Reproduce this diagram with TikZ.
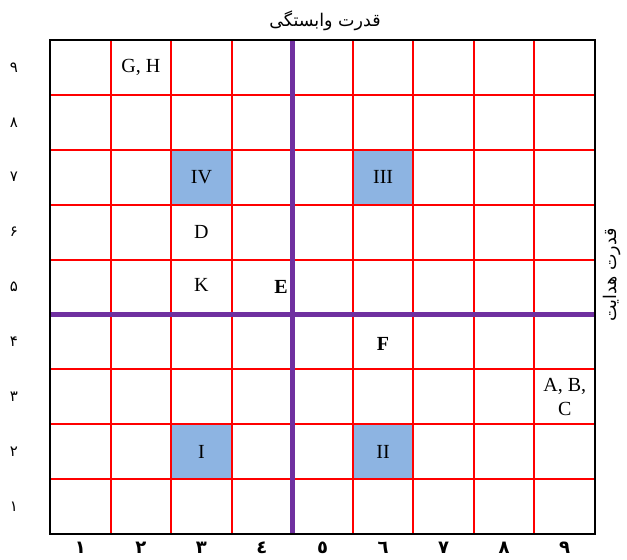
\documentclass[tikz,border=0pt]{standalone}
\usepackage{fontspec}
\setmainfont{Liberation Serif}
\newfontfamily\arabicfont[Script=Arabic]{DejaVu Sans}
\TeXXeTstate=1
\definecolor{gridred}{RGB}{255,0,0}
\definecolor{quadpurple}{RGB}{112,48,160}
\definecolor{cellblue}{RGB}{141,180,226}
\begin{document}
\begin{tikzpicture}[x=1pt,y=-1pt,
  bluecell/.style={draw=none,fill=cellblue,minimum width=60.556pt,minimum height=54.889pt,inner sep=0pt,font=\fontsize{20}{24}\selectfont},
  celltext/.style={inner sep=0pt,font=\fontsize{20}{24}\selectfont},
  boldtext/.style={inner sep=0pt,font=\fontsize{20}{24}\selectfont\bfseries},
  rowlabel/.style={inner sep=0pt,font=\arabicfont\fontsize{15}{17}\selectfont},
  collabel/.style={inner sep=0pt,font=\arabicfont\bfseries\fontsize{18}{20}\selectfont},
  axistitle/.style={inner sep=0pt,font=\arabicfont\fontsize{17.5}{20}\selectfont},
  redline/.style={draw=gridred,line width=2pt},
  purpleline/.style={draw=quadpurple,line width=5pt},
  frame/.style={draw=black,line width=2.5pt}]
\useasboundingbox (0,0) rectangle (627,560);
% blue cells
\node[bluecell] (IV)  at (201.4,177.2) {IV};
\node[bluecell] (III) at (383.1,177.2) {III};
\node[bluecell] (I)   at (201.4,451.7) {I};
\node[bluecell] (II)  at (383.1,451.7) {II};
% red grid
\foreach \i in {1,...,8}{
  \draw[redline] ({50+\i*60.556},40) -- ({50+\i*60.556},534);
  \draw[redline] (50,{40+\i*54.889}) -- (595,{40+\i*54.889});
}
% purple quadrant lines
\draw[purpleline] (292.2,40) -- (292.2,534);
\draw[purpleline] (50,314.4) -- (595,314.4);
% frame
\draw[frame] (50,40) rectangle (595,534);
% cell texts
\node[celltext] (GH) at (140.8,67.4) {G, H};
\node[celltext] (D) at (201.4,232.1) {D};
\node[celltext] (K) at (201.4,285) {K};
\node[boldtext,anchor=east] (E) at (288,287) {E};
\node[boldtext] (F) at (383.1,344) {F};
\node[celltext,align=center] (ABC) at (564.7,397) {A, B,\\C};
% row labels (Persian digits)
\foreach \k/\d in {1/۱,2/۲,3/۳,4/۴,5/۵,6/۶,7/۷,8/۸,9/۹}{
  \node[rowlabel] (r\k) at (14,{534-(\k-0.5)*54.889}) {\d};
}
% column labels (Arabic-Indic digits)
\foreach \c/\d in {1/١,2/٢,3/٣,4/٤,5/٥,6/٦,7/٧,8/٨,9/٩}{
  \node[collabel] (c\c) at ({50+(\c-0.5)*60.556},548) {\d};
}
% axis titles
\node[axistitle] (top) at (325,21) {\beginR قدرت وابستگی\endR};
\node[axistitle,rotate=90] (right) at (612,275) {\beginR قدرت هدایت\endR};
\end{tikzpicture}
\end{document}
